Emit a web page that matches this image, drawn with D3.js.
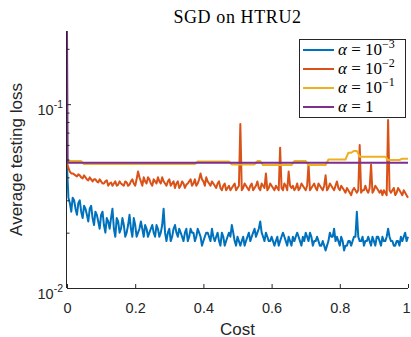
<!DOCTYPE html>
<html>
<head>
<meta charset="utf-8">
<script src="https://cdn.jsdelivr.net/npm/d3@7"></script>
<style>
  body { margin: 0; background: #fff; }
  svg { display: block; }
</style>
</head>
<body>
<svg id="chart" width="411" height="337"></svg>
<script>
// sampling grids of the cost axis
const costFine = d3.range(241).map(i => i / 240);
const costCoarse = d3.range(121).map(i => i / 120);

// alpha = 1e-3 (on costFine)
const lossA = [
  0.046, 0.031, 0.029, 0.026, 0.031, 0.030, 0.027, 0.025, 0.029, 0.030,
  0.026, 0.024, 0.028, 0.027, 0.025, 0.023, 0.027, 0.028, 0.024, 0.022,
  0.026, 0.025, 0.023, 0.021, 0.025, 0.026, 0.022, 0.020, 0.024, 0.023,
  0.021, 0.024, 0.027, 0.021, 0.019, 0.024, 0.023, 0.020, 0.021, 0.024,
  0.022, 0.019, 0.020, 0.022, 0.025, 0.021, 0.019, 0.024, 0.022, 0.019,
  0.020, 0.021, 0.023, 0.021, 0.019, 0.022, 0.021, 0.019, 0.020, 0.021,
  0.022, 0.020, 0.019, 0.022, 0.021, 0.019, 0.020, 0.022, 0.027, 0.020,
  0.018, 0.020, 0.021, 0.018, 0.019, 0.021, 0.022, 0.020, 0.019, 0.021,
  0.020, 0.019, 0.018, 0.020, 0.021, 0.018, 0.019, 0.021, 0.020, 0.020,
  0.018, 0.019, 0.021, 0.020, 0.019, 0.017, 0.018, 0.019, 0.020, 0.020,
  0.019, 0.018, 0.021, 0.019, 0.018, 0.019, 0.020, 0.018, 0.017, 0.020,
  0.019, 0.017, 0.018, 0.019, 0.020, 0.019, 0.022, 0.020, 0.018, 0.017,
  0.019, 0.018, 0.017, 0.018, 0.019, 0.017, 0.018, 0.019, 0.020, 0.018,
  0.019, 0.020, 0.021, 0.019, 0.020, 0.021, 0.023, 0.020, 0.019, 0.018,
  0.020, 0.019, 0.018, 0.018, 0.019, 0.018, 0.017, 0.018, 0.019, 0.017,
  0.018, 0.019, 0.020, 0.019, 0.018, 0.017, 0.019, 0.018, 0.017, 0.019,
  0.018, 0.019, 0.020, 0.019, 0.018, 0.017, 0.019, 0.018, 0.020, 0.019,
  0.018, 0.020, 0.019, 0.017, 0.018, 0.018, 0.019, 0.018, 0.017, 0.017,
  0.018, 0.017, 0.016, 0.017, 0.018, 0.020, 0.019, 0.019, 0.021, 0.018,
  0.019, 0.018, 0.017, 0.019, 0.018, 0.016, 0.017, 0.017, 0.018, 0.018,
  0.017, 0.018, 0.019, 0.019, 0.026, 0.019, 0.018, 0.018, 0.019, 0.017,
  0.018, 0.018, 0.019, 0.018, 0.017, 0.019, 0.018, 0.017, 0.019, 0.019,
  0.018, 0.017, 0.019, 0.018, 0.018, 0.019, 0.021, 0.019, 0.018, 0.018,
  0.017, 0.017, 0.018, 0.018, 0.017, 0.019, 0.018, 0.019, 0.020, 0.018,
  0.019
];

// alpha = 1e-2 (on costFine)
const lossB = [
  0.048, 0.045, 0.043, 0.042, 0.042, 0.0415, 0.041, 0.0405, 0.0415, 0.041,
  0.040, 0.0395, 0.041, 0.040, 0.039, 0.0385, 0.040, 0.039, 0.038, 0.039,
  0.039, 0.038, 0.0375, 0.039, 0.038, 0.037, 0.037, 0.038, 0.0385, 0.036,
  0.037, 0.0375, 0.036, 0.037, 0.038, 0.036, 0.0365, 0.038, 0.037, 0.0365,
  0.036, 0.038, 0.0375, 0.036, 0.0365, 0.038, 0.039, 0.037, 0.036, 0.039,
  0.043, 0.040, 0.038, 0.036, 0.040, 0.038, 0.037, 0.040, 0.039, 0.037,
  0.036, 0.039, 0.038, 0.037, 0.040, 0.038, 0.037, 0.040, 0.038, 0.037,
  0.036, 0.038, 0.039, 0.036, 0.037, 0.038, 0.035, 0.037, 0.038, 0.035,
  0.036, 0.038, 0.037, 0.035, 0.0365, 0.037, 0.038, 0.039, 0.036, 0.037,
  0.039, 0.036, 0.037, 0.039, 0.042, 0.039, 0.038, 0.036, 0.040, 0.038,
  0.037, 0.036, 0.038, 0.037, 0.036, 0.035, 0.037, 0.038, 0.035, 0.034,
  0.036, 0.037, 0.034, 0.035, 0.036, 0.034, 0.035, 0.036, 0.037, 0.034,
  0.035, 0.036, 0.078, 0.034, 0.035, 0.037, 0.036, 0.035, 0.034, 0.036,
  0.037, 0.034, 0.035, 0.036, 0.038, 0.035, 0.034, 0.037, 0.036, 0.035,
  0.042, 0.034, 0.035, 0.037, 0.036, 0.035, 0.034, 0.036, 0.035, 0.034,
  0.058, 0.035, 0.034, 0.037, 0.036, 0.034, 0.043, 0.036, 0.035, 0.036,
  0.034, 0.035, 0.037, 0.034, 0.035, 0.037, 0.036, 0.035, 0.034, 0.036,
  0.047, 0.034, 0.035, 0.036, 0.037, 0.035, 0.034, 0.037, 0.036, 0.035,
  0.034, 0.036, 0.041, 0.034, 0.035, 0.037, 0.036, 0.035, 0.034, 0.036,
  0.038, 0.035, 0.034, 0.036, 0.035, 0.034, 0.033, 0.035, 0.034, 0.033,
  0.032, 0.034, 0.035, 0.034, 0.033, 0.034, 0.060, 0.033, 0.034, 0.034,
  0.036, 0.034, 0.033, 0.035, 0.047, 0.033, 0.034, 0.036, 0.035, 0.034,
  0.033, 0.034, 0.032, 0.034, 0.033, 0.032, 0.082, 0.034, 0.033, 0.034,
  0.035, 0.032, 0.033, 0.035, 0.034, 0.033, 0.032, 0.034, 0.033, 0.032,
  0.031
];

// alpha = 1e-1 (on costCoarse)
const lossC = [
  0.049, 0.049, 0.049, 0.049, 0.049, 0.049,
  0.0472, 0.0472, 0.0472, 0.0472, 0.0472, 0.0472, 0.0472, 0.0472, 0.0472, 0.0472,
  0.0472, 0.0472, 0.0472, 0.0472, 0.0472, 0.0472, 0.0472, 0.0472, 0.0472, 0.0472,
  0.0472, 0.0472, 0.0472, 0.0472, 0.0472, 0.0472, 0.0472, 0.0472, 0.0472, 0.0472,
  0.0472, 0.0472, 0.0472, 0.0472, 0.0472, 0.0472, 0.0472, 0.0472, 0.0472, 0.0472,
  0.0488, 0.0488, 0.0488, 0.0488, 0.0488, 0.0488, 0.0488, 0.0488, 0.0488, 0.0488, 0.0488, 0.0488,
  0.047, 0.047, 0.047, 0.047, 0.047, 0.047, 0.047, 0.047, 0.047,
  0.049, 0.049,
  0.0466, 0.0466, 0.0466, 0.0466, 0.0466, 0.0466, 0.0466, 0.0466, 0.0466, 0.0466, 0.0466,
  0.049, 0.049, 0.049, 0.049, 0.049,
  0.0466, 0.0466, 0.0466, 0.0466, 0.0466, 0.0466, 0.0466,
  0.050, 0.050, 0.050, 0.050, 0.050, 0.050, 0.050,
  0.0544, 0.0544,
  0.0557, 0.0557,
  0.0518, 0.0518, 0.0518, 0.0518, 0.0518, 0.0518, 0.0518, 0.0518, 0.0518, 0.0518,
  0.0497, 0.0497, 0.0497, 0.0497, 0.0497,
  0.0505, 0.0505, 0.0505
];

// alpha = 1 (flat after the first step)
const costD = [0, 0.002, 1];
const lossD = [0.25, 0.048, 0.048];

const seriesColors = ["#0072BD", "#D95319", "#EDB120", "#7E2F8E"];
const alphaExp = ["\u22123", "\u22122", "\u22121", null];

const xTicks = [0, 0.2, 0.4, 0.6, 0.8, 1];
const xTickLabels = ["0", "0.2", "0.4", "0.6", "0.8", "1"];
const yTicks = [0.01, 0.1];
const yTickExp = ["-2", "-1"];
const yMinor = [0.02, 0.03, 0.04, 0.05, 0.06, 0.07, 0.08, 0.09, 0.2];

let svg = d3.select("#chart");
const axisColor = "#262626";
const sans = "'Liberation Sans', Arial, sans-serif";
const serif = "'Liberation Serif', 'Times New Roman', serif";

let x = d3.scaleLinear().domain([0, 1]).range([67, 408]);
let y = d3.scaleLog().domain([0.01, 0.25]).range([288, 31]);

// lines, drawn in MATLAB order so purple ends on top
let series = [
  { c: costFine, v: lossA },
  { c: costFine, v: lossB },
  { c: costCoarse, v: lossC },
  { c: costD, v: lossD }
];

let line = (c) => d3.line()
  .x((d, i) => x(c[i]))
  .y(d => y(d));

svg.append("g").selectAll("path")
  .data(series)
  .join("path")
  .attr("d", d => line(d.c)(d.v))
  .attr("fill", "none")
  .attr("stroke", (d, i) => seriesColors[i])
  .attr("stroke-width", 2)
  .attr("stroke-linejoin", "round");

// x axis (ticks point inward)
let xAxis = svg.append("g")
  .attr("transform", "translate(0,288)")
  .call(d3.axisBottom(x).tickValues(xTicks).tickSize(-4)
    .tickFormat((d, i) => xTickLabels[i]));
xAxis.select(".domain").attr("stroke", axisColor).attr("d", "M67,0.5H408");
xAxis.selectAll(".tick line").attr("stroke", axisColor);
xAxis.selectAll(".tick text")
  .attr("y", 25).attr("dy", null)
  .attr("x", d => d === 1 ? -2 : 0)
  .attr("fill", axisColor)
  .style("font-family", sans).style("font-size", "14.5px");

// y axis, log scale
let yAxis = svg.append("g")
  .attr("transform", "translate(67,0)")
  .call(d3.axisLeft(y).tickValues(yTicks).tickSize(-4).tickFormat(""));
yAxis.select(".domain").attr("stroke", axisColor).attr("d", "M-0.5,31V288");
yAxis.selectAll(".tick line").attr("stroke", axisColor);
yAxis.selectAll(".tick text").remove();
yAxis.selectAll(".tick").each(function (d, i) {
  let t = d3.select(this).append("text")
    .attr("x", -4).attr("y", 10.5)
    .attr("text-anchor", "end")
    .attr("fill", axisColor)
    .style("font-family", sans).style("font-size", "14.5px");
  t.append("tspan").text("10");
  t.append("tspan").attr("dy", -7.5).style("font-size", "10.5px").text(yTickExp[i]);
});

let yMinorAxis = svg.append("g")
  .attr("transform", "translate(67,0)")
  .call(d3.axisLeft(y).tickValues(yMinor).tickSize(-2.5).tickFormat(""));
yMinorAxis.select(".domain").remove();
yMinorAxis.selectAll(".tick line").attr("stroke", axisColor);

// labels
svg.append("text")
  .attr("x", 237.5).attr("y", 334.5)
  .attr("text-anchor", "middle")
  .attr("fill", axisColor)
  .style("font-family", sans).style("font-size", "17px")
  .text("Cost");

svg.append("text")
  .attr("transform", "translate(22,159.5) rotate(-90)")
  .attr("text-anchor", "middle")
  .attr("fill", axisColor)
  .style("font-family", sans).style("font-size", "17px")
  .text("Average testing loss");

svg.append("text")
  .attr("x", 237.5).attr("y", 23)
  .attr("text-anchor", "middle")
  .attr("fill", "#000")
  .style("font-family", serif).style("font-size", "18px")
  .style("letter-spacing", "0.6px")
  .text("SGD on HTRU2");

// legend
let legend = svg.append("g");
legend.append("rect")
  .attr("x", 299.5).attr("y", 39.5)
  .attr("width", 106).attr("height", 78)
  .attr("fill", "#fff")
  .attr("stroke", axisColor)
  .attr("stroke-width", 1);

let rows = legend.selectAll("g.row")
  .data(seriesColors)
  .join("g")
  .attr("class", "row")
  .attr("transform", (d, i) => `translate(0,${50 + i * 19})`);

rows.append("line")
  .attr("x1", 303).attr("x2", 334)
  .attr("stroke", d => d)
  .attr("stroke-width", 2);

rows.each(function (d, i) {
  let t = d3.select(this).append("text")
    .attr("x", 338).attr("y", 5)
    .attr("fill", "#000")
    .style("font-family", serif).style("font-size", "17px");
  t.append("tspan").style("font-style", "italic").text("\u03b1");
  t.append("tspan").text(" = ");
  if (alphaExp[i]) {
    t.append("tspan").text("10");
    t.append("tspan").attr("dy", -7).style("font-size", "12px").text(alphaExp[i]);
  } else {
    t.append("tspan").text("1");
  }
});
</script>
</body>
</html>
